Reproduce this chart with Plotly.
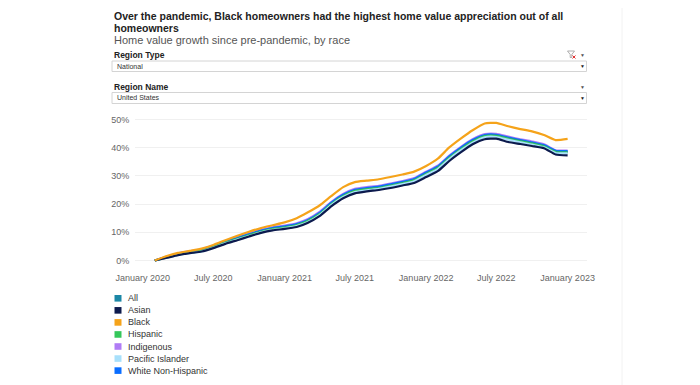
import plotly.graph_objects as go

# ---------------- data ----------------
months = [
    "2020-02-01", "2020-03-01", "2020-04-01", "2020-05-01", "2020-06-01", "2020-07-01",
    "2020-08-01", "2020-09-01", "2020-10-01", "2020-11-01", "2020-12-01", "2021-01-01",
    "2021-02-01", "2021-03-01", "2021-04-01", "2021-05-01", "2021-06-01", "2021-07-01",
    "2021-08-01", "2021-09-01", "2021-10-01", "2021-11-01", "2021-12-01", "2022-01-01",
    "2022-02-01", "2022-03-01", "2022-04-01", "2022-05-01", "2022-06-01", "2022-07-01",
    "2022-08-01", "2022-09-01", "2022-10-01", "2022-11-01", "2022-12-01", "2023-01-01",
]

all_vals = [0, 1.1, 2.2, 2.9, 3.5, 4.8, 6.4, 7.7, 9.0, 10.3, 11.2, 11.8,
            12.6, 14.0, 16.5, 20.0, 22.9, 24.7, 25.3, 25.8, 26.6, 27.5, 28.5, 30.8,
            33.0, 36.4, 39.6, 42.3, 44.2, 44.3, 43.3, 42.4, 41.6, 40.6, 38.6, 38.5]
asian_vals = [0, 0.9, 1.9, 2.6, 3.2, 4.4, 5.9, 7.2, 8.5, 9.8, 10.7, 11.2,
              11.9, 13.3, 15.7, 19.2, 22.1, 23.8, 24.5, 25.0, 25.7, 26.6, 27.5, 29.6,
              31.8, 35.2, 38.4, 41.2, 43.0, 43.2, 42.0, 41.3, 40.6, 39.8, 37.6, 37.3]
black_vals = [0, 1.5, 2.7, 3.4, 4.2, 5.5, 7.2, 8.8, 10.2, 11.5, 12.5, 13.5,
              15.0, 17.0, 19.5, 22.8, 26.0, 27.8, 28.3, 28.8, 29.6, 30.5, 31.5, 33.5,
              36.2, 40.0, 43.3, 46.2, 48.6, 48.8, 47.6, 46.6, 45.8, 44.5, 42.7, 43.1]
hispanic_vals = [0, 1.0, 2.1, 2.8, 3.4, 4.7, 6.3, 7.6, 8.9, 10.2, 11.1, 11.7,
                 12.5, 13.9, 16.4, 19.9, 22.8, 24.6, 25.2, 25.7, 26.5, 27.4, 28.4, 30.6,
                 32.8, 36.2, 39.4, 42.1, 44.0, 44.1, 43.1, 42.2, 41.4, 40.4, 38.4, 38.3]
indigenous_vals = [0, 1.3, 2.5, 3.3, 4.0, 5.3, 6.9, 8.2, 9.6, 10.9, 11.8, 12.4,
                   13.2, 14.6, 17.2, 20.7, 23.6, 25.4, 26.0, 26.5, 27.3, 28.2, 29.2, 31.5,
                   33.7, 37.1, 40.3, 43.0, 44.8, 44.9, 43.9, 43.0, 42.2, 41.2, 39.1, 39.0]
pacific_vals = [0, 0.9, 2.0, 2.6, 3.2, 4.5, 6.1, 7.4, 8.7, 10.0, 10.9, 11.4,
                12.2, 13.6, 16.1, 19.6, 22.5, 24.3, 24.9, 25.4, 26.2, 27.1, 28.1, 30.3,
                32.5, 35.9, 39.1, 41.8, 43.7, 43.8, 42.8, 41.9, 41.1, 40.1, 38.1, 38.0]
white_vals = [0, 1.2, 2.4, 3.1, 3.8, 5.1, 6.7, 8.0, 9.3, 10.6, 11.5, 12.1,
              12.9, 14.3, 16.9, 20.4, 23.3, 25.1, 25.7, 26.2, 27.0, 27.9, 28.9, 31.2,
              33.4, 36.8, 40.0, 42.7, 44.5, 44.6, 43.6, 42.7, 41.9, 40.9, 38.9, 38.8]

series_names = ["All", "Asian", "Black", "Hispanic", "Indigenous", "Pacific Islander", "White Non-Hispanic"]
series_values = {
    "All": all_vals, "Asian": asian_vals, "Black": black_vals, "Hispanic": hispanic_vals,
    "Indigenous": indigenous_vals, "Pacific Islander": pacific_vals, "White Non-Hispanic": white_vals,
}
series_colors = {
    "All": "#1b87a6", "Asian": "#0c1a4d", "Black": "#f5a31a", "Hispanic": "#35c75a",
    "Indigenous": "#b07cf5", "Pacific Islander": "#a8e0fb", "White Non-Hispanic": "#0a6dff",
}
draw_order = ["Indigenous", "White Non-Hispanic", "All", "Hispanic", "Pacific Islander", "Asian", "Black"]

tick_dates = ["2020-01-01", "2020-07-01", "2021-01-01", "2021-07-01", "2022-01-01", "2022-07-01", "2023-01-01"]
tick_labels = ["January 2020", "July 2020", "January 2021", "July 2021", "January 2022", "July 2022", "January 2023"]
y_ticks = [0, 10, 20, 30, 40, 50]
y_tick_labels = ["0%", "10%", "20%", "30%", "40%", "50%"]

title_line1 = "Over the pandemic, Black homeowners had the highest home value appreciation out of all"
title_line2 = "homeowners"
subtitle = "Home value growth since pre-pandemic, by race"

# ---------------- layout geometry ----------------
OFF = 8  # page body margin
W, H = 700 - OFF, 385 - OFF
ML, MR, MT, MB = 135 - OFF, 113, 113 - OFF, 119
PW = W - ML - MR
PH = H - MT - MB
FONT = "Arial, Liberation Sans, sans-serif"


def px(x):
    return (x - OFF - ML) / PW


def py(y):
    return (H - MB - (y - OFF)) / PH


fig = go.Figure()
for name in draw_order:
    fig.add_trace(go.Scatter(
        x=months, y=series_values[name], mode="lines", name=name,
        line=dict(color=series_colors[name], width=2.2, shape="spline", smoothing=0.5),
        showlegend=False, hoverinfo="skip",
    ))

annotations = []
shapes = []

# titles
annotations.append(dict(x=px(112), y=py(16), xref="paper", yref="paper", xanchor="left", yanchor="middle",
                        text="<b>" + title_line1 + "</b>", showarrow=False,
                        font=dict(family=FONT, size=10.5, color="#222222")))
annotations.append(dict(x=px(112), y=py(28), xref="paper", yref="paper", xanchor="left", yanchor="middle",
                        text="<b>" + title_line2 + "</b>", showarrow=False,
                        font=dict(family=FONT, size=10.5, color="#222222")))
annotations.append(dict(x=px(112), y=py(40), xref="paper", yref="paper", xanchor="left", yanchor="middle",
                        text=subtitle, showarrow=False,
                        font=dict(family=FONT, size=11, color="#555555")))

# filter controls
for label, ly, value, by0, by1, icon in [("Region Type", 55, "National", 61, 71.5, True),
                                          ("Region Name", 87, "United States", 92.5, 103.5, False)]:
    annotations.append(dict(x=px(112), y=py(ly), xref="paper", yref="paper", xanchor="left", yanchor="middle",
                            text="<b>" + label + "</b>", showarrow=False,
                            font=dict(family=FONT, size=8.5, color="#222222")))
    shapes.append(dict(type="rect", xref="paper", yref="paper", x0=px(112), x1=px(586.5), y0=py(by1), y1=py(by0),
                       line=dict(color="#d4d4d4", width=1), fillcolor="white", layer="below"))
    annotations.append(dict(x=px(115), y=py((by0 + by1) / 2), xref="paper", yref="paper", xanchor="left",
                            yanchor="middle", text=value, showarrow=False,
                            font=dict(family=FONT, size=7, color="#333333")))
    annotations.append(dict(x=px(582), y=py((by0 + by1) / 2), xref="paper", yref="paper", xanchor="center",
                            yanchor="middle", text="▼", showarrow=False,
                            font=dict(family=FONT, size=5, color="#222222")))
    annotations.append(dict(x=px(582), y=py(ly), xref="paper", yref="paper", xanchor="center",
                            yanchor="middle", text="▼", showarrow=False,
                            font=dict(family=FONT, size=5, color="#555555")))
    if icon:
        # small funnel icon with red cross
        fx, fy = 571, 54
        path = "M {} {} L {} {} L {} {} L {} {} L {} {} L {} {} Z".format(
            px(fx - 3.5), py(fy - 3), px(fx + 3.5), py(fy - 3), px(fx + 0.8), py(fy + 0.5),
            px(fx + 0.8), py(fy + 3.5), px(fx - 0.8), py(fy + 3.5), px(fx - 0.8), py(fy + 0.5))
        shapes.append(dict(type="path", xref="paper", yref="paper", path=path,
                           line=dict(color="#9a9a9a", width=0.8), fillcolor="rgba(0,0,0,0)"))
        shapes.append(dict(type="line", xref="paper", yref="paper", x0=px(572.5), x1=px(575.5),
                           y0=py(55.5), y1=py(58.5), line=dict(color="#e03030", width=1)))
        shapes.append(dict(type="line", xref="paper", yref="paper", x0=px(572.5), x1=px(575.5),
                           y0=py(58.5), y1=py(55.5), line=dict(color="#e03030", width=1)))

# legend (built from the series names and colours)
for i, name in enumerate(series_names):
    cy = 298.3 + i * 12.05
    shapes.append(dict(type="rect", xref="paper", yref="paper", x0=px(114.5), x1=px(121.5),
                       y0=py(cy + 3.3), y1=py(cy - 3.3), line=dict(width=0), fillcolor=series_colors[name]))
    annotations.append(dict(x=px(125.5), y=py(cy), xref="paper", yref="paper", xanchor="left", yanchor="middle",
                            text=name, showarrow=False, font=dict(family=FONT, size=9, color="#333333")))

# dashboard border line
shapes.append(dict(type="line", xref="paper", yref="paper", x0=px(622), x1=px(622), y0=py(0), y1=py(385),
                   line=dict(color="#f2f2f2", width=1)))

fig.update_layout(
    width=W, height=H,
    margin=dict(l=ML, r=MR, t=MT, b=MB),
    paper_bgcolor="white", plot_bgcolor="white",
    font=dict(family=FONT, size=9, color="#666666"),
    showlegend=False,
    annotations=annotations,
    shapes=shapes,
    xaxis=dict(
        type="date", range=["2019-12-12", "2023-02-20"],
        tickvals=tick_dates, ticktext=tick_labels,
        showgrid=False, zeroline=False, showline=False,
        ticks="outside", ticklen=3, tickcolor="rgba(0,0,0,0)",
        tickfont=dict(family=FONT, size=9, color="#666666"),
    ),
    yaxis=dict(
        range=[-1.95, 52.3], tickvals=y_ticks, ticktext=y_tick_labels,
        showgrid=True, gridcolor="#f0f0f0", gridwidth=1, zeroline=False, showline=False,
        ticks="outside", ticklen=3, tickcolor="rgba(0,0,0,0)",
        tickfont=dict(family=FONT, size=9, color="#666666"),
    ),
)

fig.write_html("out.html")
